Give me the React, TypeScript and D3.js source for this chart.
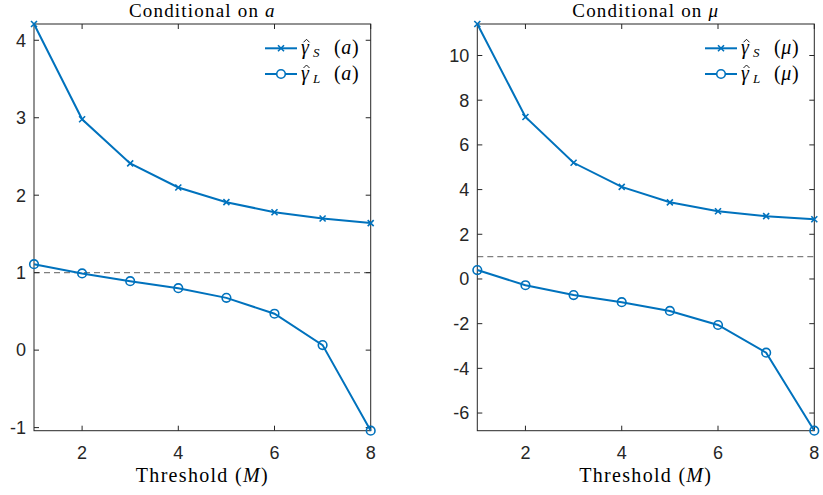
import React from "react";
import * as d3 from "d3";

const thresholds = [1, 2, 3, 4, 5, 6, 7, 8];
const gammaS_a = [4.21, 2.98, 2.41, 2.1, 1.91, 1.78, 1.7, 1.64];
const gammaL_a = [1.11, 0.99, 0.89, 0.8, 0.675, 0.47, 0.065, -1.04];
const gammaS_mu = [11.41, 7.25, 5.2, 4.12, 3.43, 3.03, 2.81, 2.67];
const gammaL_mu = [0.4, -0.28, -0.72, -1.04, -1.43, -2.06, -3.3, -6.79];
const xTicks = [2, 4, 6, 8];
const yTicksA = [-1, 0, 1, 2, 3, 4];
const yTicksMu = [-6, -4, -2, 0, 2, 4, 6, 8, 10];
const refLine = 1;

const BLUE = "#0072BD";
const AX = "#262626";
const SANS = "Liberation Sans, Arial, sans-serif";
const SERIF = "Liberation Serif, Times New Roman, serif";

type PanelProps = {
  x0: number;
  x1: number;
  s: number[];
  l: number[];
  yTicks: number[];
  sym: string;
  legX: number;
};

function MathLabel({ x, y, sub, sym }: { x: number; y: number; sub: string; sym: string }) {
  const base = y + 6;
  return (
    <g>
      <text x={x} y={base} style={{ fontFamily: SERIF, fontSize: 20, fontStyle: "italic" }} fill="#000">
        γ
      </text>
      <path d={`M${x + 2.5},${y - 6}L${x + 5.5},${y - 9}L${x + 8.5},${y - 6}`} fill="none" stroke="#000" strokeWidth={0.9} />
      <text x={x + 12} y={base + 3} style={{ fontFamily: SERIF, fontSize: 13, fontStyle: "italic" }} fill="#000">
        {sub}
      </text>
      <text x={x + 33} y={base} style={{ fontFamily: SERIF, fontSize: 20, letterSpacing: 0.6 }} fill="#000">
        (<tspan style={{ fontStyle: "italic" }}>{sym}</tspan>)
      </text>
    </g>
  );
}

function Panel({ x0, x1, s, l, yTicks, sym, legX }: PanelProps) {
  const top = 24;
  const bottom = 430.7;
  const all = s.concat(l);
  const x = d3.scaleLinear().domain([1, 8]).range([x0, x1]);
  const y = d3.scaleLinear().domain([d3.min(all)!, d3.max(all)!]).range([bottom, top]);
  const line = d3
    .line<number>()
    .x((_, i) => x(thresholds[i]))
    .y((d) => y(d));
  const tl = 5;
  const cx = (x0 + x1) / 2;
  return (
    <g>
      <line x1={x0} x2={x1} y1={y(refLine)} y2={y(refLine)} stroke="#7f7f7f" strokeWidth={1.2} strokeDasharray="6,4" />
      <rect x={x0} y={top} width={x1 - x0} height={bottom - top} fill="none" stroke={AX} strokeWidth={1} />
      {xTicks.map((t) => (
        <g key={"xt" + t}>
          <line x1={x(t)} x2={x(t)} y1={bottom} y2={bottom - tl} stroke={AX} />
          <line x1={x(t)} x2={x(t)} y1={top} y2={top + tl} stroke={AX} />
          <text x={x(t)} y={459} textAnchor="middle" style={{ fontFamily: SANS, fontSize: 18 }} fill={AX}>
            {t}
          </text>
        </g>
      ))}
      {yTicks.map((t) => (
        <g key={"yt" + t}>
          <line x1={x0} x2={x0 + tl} y1={y(t)} y2={y(t)} stroke={AX} />
          <line x1={x1} x2={x1 - tl} y1={y(t)} y2={y(t)} stroke={AX} />
          <text x={x0 - 8} y={y(t)} dy="0.35em" textAnchor="end" style={{ fontFamily: SANS, fontSize: 18 }} fill={AX}>
            {t}
          </text>
        </g>
      ))}
      <path d={line(s)!} fill="none" stroke={BLUE} strokeWidth={2} />
      <path d={line(l)!} fill="none" stroke={BLUE} strokeWidth={2} />
      {s.map((v, i) => (
        <path
          key={"sm" + i}
          d={`M${x(thresholds[i]) - 3},${y(v) - 3}L${x(thresholds[i]) + 3},${y(v) + 3}M${x(thresholds[i]) - 3},${y(v) + 3}L${x(thresholds[i]) + 3},${y(v) - 3}`}
          stroke={BLUE}
          strokeWidth={1.6}
        />
      ))}
      {l.map((v, i) => (
        <circle key={"lm" + i} cx={x(thresholds[i])} cy={y(v)} r={4.3} fill="none" stroke={BLUE} strokeWidth={1.6} />
      ))}
      <text x={cx} y={17} textAnchor="middle" style={{ fontFamily: SERIF, fontSize: 19, letterSpacing: 1.2 }} fill="#000">
        Conditional on <tspan style={{ fontStyle: "italic" }}>{sym}</tspan>
      </text>
      <text x={cx} y={481.5} textAnchor="middle" style={{ fontFamily: SERIF, fontSize: 20, letterSpacing: 1.3 }} fill="#000">
        Threshold (<tspan style={{ fontStyle: "italic" }}>M</tspan>)
      </text>
      {[0, 1].map((k) => {
        const ly = k === 0 ? 48.3 : 74;
        const lx0 = legX;
        const lx1 = legX + 32;
        const mx = (lx0 + lx1) / 2;
        return (
          <g key={"lg" + k}>
            <line x1={lx0} x2={lx1} y1={ly} y2={ly} stroke={BLUE} strokeWidth={2} />
            {k === 0 ? (
              <path d={`M${mx - 3},${ly - 3}L${mx + 3},${ly + 3}M${mx - 3},${ly + 3}L${mx + 3},${ly - 3}`} stroke={BLUE} strokeWidth={1.6} />
            ) : (
              <circle cx={mx} cy={ly} r={4.3} fill="#fff" stroke={BLUE} strokeWidth={1.6} />
            )}
            <MathLabel x={lx1 + 4} y={ly} sub={k === 0 ? "S" : "L"} sym={sym} />
          </g>
        );
      })}
    </g>
  );
}

export default function App() {
  return (
    <svg width={823} height={495} style={{ position: "absolute", left: 0, top: 0, background: "#fff" }}>
      <rect width={823} height={495} fill="#fff" />
      <Panel x0={34} x1={370.7} s={gammaS_a} l={gammaL_a} yTicks={yTicksA} sym="a" legX={265} />
      <Panel x0={477.3} x1={814.3} s={gammaS_mu} l={gammaL_mu} yTicks={yTicksMu} sym="μ" legX={705} />
    </svg>
  );
}
